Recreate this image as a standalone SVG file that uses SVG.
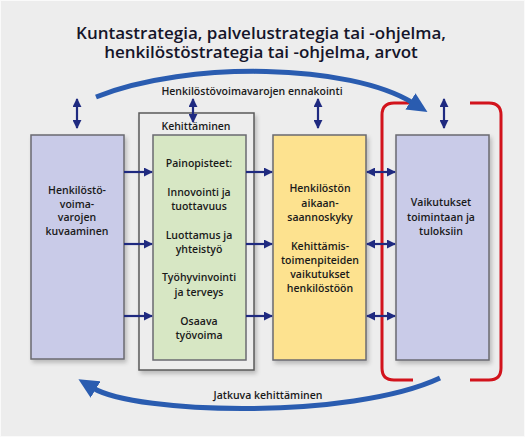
<svg xmlns="http://www.w3.org/2000/svg" width="525" height="437" viewBox="0 0 525 437">
<style>
.t{font-family:"Open Sans","Liberation Sans",sans-serif;font-size:10.5px;font-weight:600;fill:#1a1a1a;text-anchor:middle}
.title{font-family:"Open Sans","Liberation Sans",sans-serif;font-size:17px;font-weight:600;fill:#15152a;text-anchor:middle}
.box{stroke:#6a6a70;stroke-width:1.5}
.ar{stroke:#1f2a80;stroke-width:2.2;fill:none}
.big{stroke:#2a5cb0;stroke-width:5;fill:none}
.red{stroke:#d2131c;stroke-width:3;fill:none}
</style>
<defs>
<marker id="ah" viewBox="0 0 10 10" refX="9" refY="5" markerWidth="9" markerHeight="9" markerUnits="userSpaceOnUse" orient="auto-start-reverse">
<path d="M0,0 L10,5 L0,10 z" fill="#1f2a80"/>
</marker>
<marker id="bh" viewBox="0 0 20 20" refX="3" refY="10" markerWidth="20" markerHeight="19" markerUnits="userSpaceOnUse" orient="auto" preserveAspectRatio="none">
<path d="M0,0 L20,10 L0,20 z" fill="#2a5cb0"/>
</marker>
<filter id="sh" x="-10%" y="-10%" width="130%" height="130%">
<feDropShadow dx="2" dy="3" stdDeviation="2" flood-color="#000" flood-opacity="0.22"/>
</filter>
</defs>
<rect x="0" y="0" width="525" height="437" fill="#ededed"/>
<rect x="0.5" y="0.5" width="524" height="436" fill="none" stroke="#fafafa" stroke-width="1"/>

<g id="title">
<text class="title" x="261" y="38.5">Kuntastrategia, palvelustrategia tai -ohjelma,</text>
<text class="title" x="261" y="58">henkilöstöstrategia tai -ohjelma, arvot</text>
</g>

<g id="kehittaminen">
<rect x="139" y="113" width="115" height="257" fill="#ededed" stroke="#5a5a5a" stroke-width="1.5" filter="url(#sh)"/>
<text class="t" x="196" y="130">Kehittäminen</text>
</g>

<g id="kuvaaminen">
<rect class="box" x="31" y="135" width="93" height="224" fill="#c9cbe8" filter="url(#sh)"/>
<text class="t" x="77" y="194">Henkilöstö-</text>
<text class="t" x="77" y="207.5">voima-</text>
<text class="t" x="77" y="221">varojen</text>
<text class="t" x="77" y="234.5">kuvaaminen</text>
</g>

<g id="painopisteet">
<rect class="box" x="153" y="135" width="93" height="225" fill="#d7e7c4"/>
<text class="t" x="199" y="167">Painopisteet:</text>
<text class="t" x="199" y="196">Innovointi ja</text>
<text class="t" x="199" y="210">tuottavuus</text>
<text class="t" x="199" y="239">Luottamus ja</text>
<text class="t" x="199" y="253">yhteistyö</text>
<text class="t" x="199" y="281">Työhyvinvointi</text>
<text class="t" x="199" y="295.5">ja terveys</text>
<text class="t" x="199" y="325">Osaava</text>
<text class="t" x="199" y="338.5">työvoima</text>
</g>

<g id="aikaansaannoskyky">
<rect class="box" x="273" y="135" width="93" height="225" fill="#fde28f" filter="url(#sh)"/>
<text class="t" x="320" y="192">Henkilöstön</text>
<text class="t" x="320" y="206.5">aikaan-</text>
<text class="t" x="320" y="221">saannoskyky</text>
<text class="t" x="320" y="250">Kehittämis-</text>
<text class="t" x="320" y="264">toimenpiteiden</text>
<text class="t" x="320" y="278">vaikutukset</text>
<text class="t" x="320" y="292">henkilöstöön</text>
</g>

<g id="vaikutukset">
<rect class="box" x="396" y="135" width="93" height="225" fill="#c9cbe8" filter="url(#sh)"/>
<text class="t" x="441" y="206">Vaikutukset</text>
<text class="t" x="441" y="221">toimintaan ja</text>
<text class="t" x="441" y="235">tuloksiin</text>
</g>

<g id="bracket">
<path class="red" d="M412,103 H394 Q382,103 382,115 V368 Q382,380 394,380 H413"/>
<path class="red" d="M470,103 H489 Q501,103 501,115 V368 Q501,380 489,380 H470"/>
</g>

<g id="connectors">
<path class="big" d="M96,97 C190,60 350,64 413,103" marker-end="url(#bh)"/>
<text class="t" x="252" y="95">Henkilöstövoimavarojen ennakointi</text>
<path class="big" d="M440,378 C350,420 136,414 93,388" marker-end="url(#bh)"/>
<text class="t" x="268" y="399">Jatkuva kehittäminen</text>

<line class="ar" x1="77" y1="99" x2="77" y2="128" marker-start="url(#ah)" marker-end="url(#ah)"/>
<line class="ar" x1="193" y1="99" x2="193" y2="122" marker-start="url(#ah)" marker-end="url(#ah)"/>
<line class="ar" x1="318" y1="99" x2="318" y2="128" marker-start="url(#ah)" marker-end="url(#ah)"/>
<line class="ar" x1="444" y1="99" x2="444" y2="128" marker-start="url(#ah)" marker-end="url(#ah)"/>

<line class="ar" x1="124" y1="172" x2="152" y2="172" marker-end="url(#ah)"/>
<line class="ar" x1="124" y1="244" x2="152" y2="244" marker-end="url(#ah)"/>
<line class="ar" x1="124" y1="316" x2="152" y2="316" marker-end="url(#ah)"/>
<line class="ar" x1="246" y1="172" x2="272" y2="172" marker-end="url(#ah)"/>
<line class="ar" x1="246" y1="244" x2="272" y2="244" marker-end="url(#ah)"/>
<line class="ar" x1="246" y1="316" x2="272" y2="316" marker-end="url(#ah)"/>
<line class="ar" x1="367" y1="172" x2="395" y2="172" marker-start="url(#ah)" marker-end="url(#ah)"/>
<line class="ar" x1="367" y1="244" x2="395" y2="244" marker-start="url(#ah)" marker-end="url(#ah)"/>
<line class="ar" x1="367" y1="316" x2="395" y2="316" marker-start="url(#ah)" marker-end="url(#ah)"/>
</g>
</svg>
